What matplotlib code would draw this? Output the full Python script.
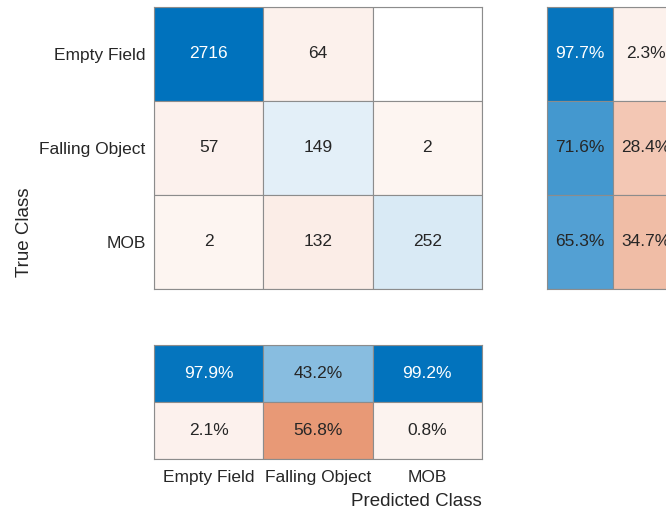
import numpy as np
import matplotlib
matplotlib.use('Agg')
import matplotlib.pyplot as plt

plt.rcParams['font.family'] = ['Liberation Sans', 'DejaVu Sans']

classes = ['Empty Field', 'Falling Object', 'MOB']
counts = np.array([[2716, 64, 0],
                   [57, 149, 2],
                   [2, 132, 252]])

blue = np.array([0, 114, 189]) / 255.0
orange = np.array([217, 83, 25]) / 255.0
white = np.ones(3)
edge = '#8c8c8c'
txt = '#262626'


def shade(base, t):
    # nonzero cells get a small minimum tint, zero stays white
    if t <= 0:
        return white
    t = 0.06 + 0.94 * t
    return white * (1 - t) + base * t


def draw_cells(ax, vals, colors, labels, nrows, ncols):
    for r in range(nrows):
        for c in range(ncols):
            ax.add_patch(plt.Rectangle((c, r), 1, 1, facecolor=colors[r][c],
                                       edgecolor=edge, linewidth=0.8))
            if labels[r][c]:
                col = 'white' if vals[r][c] > 0.85 else txt
                ax.text(c + 0.5, r + 0.5, labels[r][c], ha='center', va='center',
                        fontsize=12.5, color=col)
    ax.set_xlim(0, ncols)
    ax.set_ylim(nrows, 0)
    for s in ax.spines.values():
        s.set_color(edge)
        s.set_linewidth(0.8)


fig = plt.figure(figsize=(6.66, 5.16), dpi=100)
W, H = 666, 516


def axes_px(x0, y0, x1, y1):
    return fig.add_axes([x0 / W, 1 - y1 / H, (x1 - x0) / W, (y1 - y0) / H])


# main matrix
ax = axes_px(154, 7, 482, 289)
vals = counts / counts.max()
colors = [[shade(blue if r == c else orange, vals[r, c]) for c in range(3)] for r in range(3)]
labels = [[str(counts[r, c]) if counts[r, c] > 0 else '' for c in range(3)] for r in range(3)]
draw_cells(ax, vals, colors, labels, 3, 3)
ax.set_xticks([])
ax.set_yticks(np.arange(3) + 0.5)
ax.set_yticklabels(classes, fontsize=12.5, color=txt)
ax.tick_params(axis='y', length=0, pad=6)

# row summary
row_tot = counts.sum(axis=1)
row_ok = np.diag(counts) / row_tot * 100
row_bad = 100 - row_ok
axr = axes_px(547, 7, 679, 289)
rv = [[row_ok[r] / 100, row_bad[r] / 100] for r in range(3)]
rc = [[shade(blue, rv[r][0]), shade(orange, rv[r][1])] for r in range(3)]
rl = [['%.1f%%' % row_ok[r], '%.1f%%' % row_bad[r]] for r in range(3)]
draw_cells(axr, rv, rc, rl, 3, 2)
axr.set_xticks([])
axr.set_yticks([])

# column summary
col_tot = counts.sum(axis=0)
col_ok = np.diag(counts) / col_tot * 100
col_bad = 100 - col_ok
axc = axes_px(154, 345, 482, 459)
cv = [[col_ok[c] / 100 for c in range(3)], [col_bad[c] / 100 for c in range(3)]]
cc = [[shade(blue, cv[0][c]) for c in range(3)], [shade(orange, cv[1][c]) for c in range(3)]]
cl = [['%.1f%%' % col_ok[c] for c in range(3)], ['%.1f%%' % col_bad[c] for c in range(3)]]
draw_cells(axc, cv, cc, cl, 2, 3)
axc.set_yticks([])
axc.set_xticks(np.arange(3) + 0.5)
axc.set_xticklabels(classes, fontsize=12.5, color=txt)
axc.tick_params(axis='x', length=0, pad=8)

fig.text(25 / W, 1 - 232 / H, 'True Class', rotation=90, ha='center', va='center',
         fontsize=13.5, color=txt)
fig.text(416 / W, 1 - 502 / H, 'Predicted Class', ha='center', va='center',
         fontsize=13.5, color=txt)

fig.savefig('out.png', dpi=100)
